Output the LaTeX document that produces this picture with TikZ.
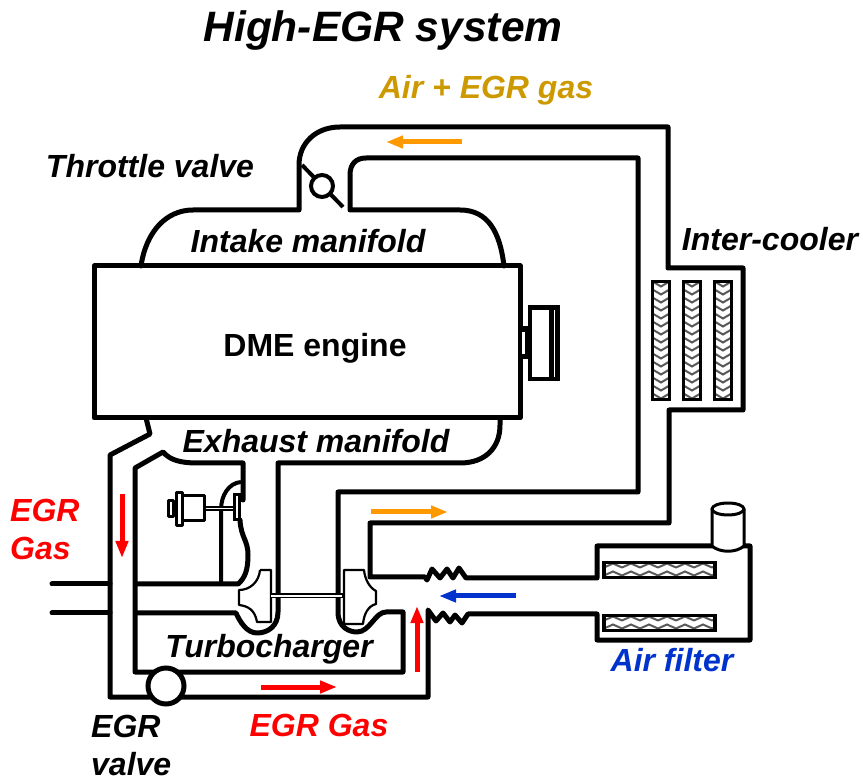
\documentclass[tikz,border=0pt]{standalone}
\usepackage{xcolor}
\usepackage{fontspec}
\setmainfont{Liberation Sans}
\usetikzlibrary{arrows.meta}
\definecolor{egrC}{rgb}{1,0,0}
\definecolor{mixC}{rgb}{1,0.6,0}
\definecolor{airC}{rgb}{0,0.2,0.8}
\definecolor{goldC}{rgb}{0.8,0.6,0}
\tikzset{
  pipe/.style={line width=5pt,line join=round,line cap=round},
  part/.style={line width=3pt,line join=round,fill=white},
  wheel/.style={line width=2.2pt,line join=round,fill=white},
  flow/.style={line width=5pt,-{Triangle[width=12pt,length=17pt]}},
  lbl/.style={font=\fontsize{32}{36}\selectfont\bfseries\itshape,inner sep=0pt,align=left}
}
\begin{document}
\begin{tikzpicture}[x=1pt,y=-1pt]
        \newcommand\fillCooler[1]{
          \begin{scope}[shift={(#1,281.5)}]
            \fill[white] (0,0) rectangle (17,118);
            \begin{scope}
              \clip (0,0) rectangle (17,118);
              \foreach \yy in {0,8,...,120}
                \draw[black!65,line width=2pt] (0,\yy) -- (8.5,\yy+5) -- (17,\yy);
            \end{scope}
            \draw[line width=3.5pt] (0,0) rectangle (17,118);
          \end{scope}}
        \newcommand\fillFilter[1]{
          \begin{scope}[shift={(604,#1)}]
            \fill[white] (0,0) rectangle (111,15);
            \begin{scope}
              \clip (0,0) rectangle (111,15);
              \foreach \xx in {0,18,...,108}{
                \draw[black!65,line width=2pt] (\xx,5) -- (\xx+9,1) -- (\xx+18,5);
                \draw[black!65,line width=2pt] (\xx,13) -- (\xx+9,9) -- (\xx+18,13);
              }
            \end{scope}
            \draw[line width=3.5pt] (0,0) rectangle (111,15);
          \end{scope}}
        \useasboundingbox (0,0) rectangle (863,783);
        % outer intake path, from manifold round the cooler and filter
        \draw[pipe] (141,266) .. controls (146,232) and (166,210) .. (193,210) -- (299,210) -- (299,165)
          .. controls (299,143) and (316,127) .. (340,127) -- (668,127) -- (668,268) -- (743,268)
          -- (743,410) -- (669,410) -- (669,523) -- (370,523) -- (370,577) -- (425,577) -- (427,580)
          -- (432,569) -- (440,578) -- (447,569) -- (453,578) -- (459,568) -- (466,578)
          -- (597,578) -- (597,546) -- (750,546) -- (750,640) -- (597,640) -- (597,614) -- (468,614)
          -- (462,623) -- (455,615) -- (450,622) -- (443,613) -- (436,621) -- (428,610)
          -- (428,697) -- (110,697) -- (110,455) -- (150,434) -- (146,418);
        % inner intake path
        \draw[pipe] (504,266) .. controls (500,232) and (488,210) .. (460,210) -- (350,210) -- (350,175)
          .. controls (350,164) and (356,158) .. (366,158) -- (638,158) -- (638,492) -- (338,492) -- (338,612)
          .. controls (338,628) and (350,632) .. (357,632) .. controls (370,632) and (375,612) .. (386,612)
          -- (403,612) -- (403,672) -- (135,672) -- (135,468) -- (163,452)
          .. controls (170,460) and (180,463) .. (198,463) -- (243,463) -- (243,500);
        % exhaust
        \draw[pipe] (500,418) -- (500,425) .. controls (500,448) and (485,463) .. (460,463) -- (278,463)
          -- (278,612) .. controls (278,626) and (268,633) .. (257,633) .. controls (247,633) and (240,622) .. (236,613)
          -- (137,613);
        \draw[pipe] (240,520) .. controls (241,538) and (248,540) .. (248,555) .. controls (248,570) and (245,578) .. (238,584) -- (137,584);
        \draw[pipe] (52,584) -- (110,584);
        \draw[pipe] (52,613) -- (110,613);
        % wastegate
        \draw[line width=4pt] (221,584) -- (221,510) .. controls (221,495) and (229,483) .. (241,482);
        \node[draw,part,minimum width=5pt,minimum height=16pt,inner sep=0pt] (capA) at (170.5,509) {};
        \node[draw,part,minimum width=6pt,minimum height=33pt,inner sep=0pt] (capB) at (179,509.5) {};
        \node[draw,part,minimum width=22pt,minimum height=25pt,inner sep=0pt] (capC) at (193,508.5) {};
        \draw[line width=5pt] (capC.east) -- (234,508.5);
        \draw[white,line width=1.5pt] (capC.east) -- (234,508.5);
        \draw[line width=3pt,fill=white] (234,495) rectangle (239,520);
        % engine
        \draw[pipe] (94,266) rectangle (520,418);
        \fill (518,326) rectangle (528,359);
        \fill[white] (522,332) rectangle (525,354);
        \fill (528,305) rectangle (560,381);
        \fill[white] (532,310) rectangle (549,377);
        \draw[white,line width=0.8pt] (554.5,310) -- (554.5,377);
        % turbo wheels
        \draw[wheel] (260,570) -- (271,570) -- (271,622) -- (257,622) .. controls (255,610) and (248,606) .. (239,605)
          -- (239,590) .. controls (250,590) and (259,582) .. (260,570);
        \draw[wheel] (344,570) -- (364,570) .. controls (365,580) and (370,588) .. (376,591) -- (376,604)
          .. controls (368,606) and (364,614) .. (363,624) -- (344,624) -- cycle;
        \draw[line width=5pt] (270,596) -- (343,596);
        \draw[white,line width=1.5pt] (271,596) -- (342,596);
        % egr valve and throttle
        \draw[line width=5pt,fill=white] (166,686) circle (18);
        \draw[line width=4pt] (302,165) -- (343,207);
        \draw[line width=4pt,fill=white] (322,186) circle (11);
        % coolers and filter
        \fillCooler{652.5};
        \fillCooler{683.5};
        \fillCooler{714.5};
        \fillFilter{562.5};
        \fillFilter{615.5};
        \draw[part] (712,509) -- (712,546) .. controls (720,553) and (736,553) .. (744,546) -- (744,509);
        \draw[part] (728,509) ellipse (16 and 6);
        % flows
        \draw[flow,egrC] (122,494) -- (122,558);
        \draw[flow,egrC] (261,687) -- (337,687);
        \draw[flow,egrC] (417,672) -- (417,606);
        \draw[flow,mixC] (462,142) -- (386,142);
        \draw[flow,mixC] (371,512) -- (448,512);
        \draw[flow,airC] (516,596) -- (439,596);
        % labels
        \node[lbl,font=\fontsize{42.5}{48}\selectfont\bfseries\itshape] (title) at (383,31) {High-EGR system};
        \node[lbl,goldC] (mixL) at (486,90) {Air + EGR gas};
        \node[lbl] (throttleL) at (150,166) {Throttle valve};
        \node[lbl] (intakeL) at (308,241) {Intake manifold};
        \node[lbl,font=\fontsize{32}{36}\selectfont\bfseries] (engineL) at (315,348) {DME engine};
        \node[lbl] (coolerL) at (770,239) {Inter-cooler};
        \node[lbl] (exhaustL) at (316,441) {Exhaust manifold};
        \node[lbl,egrC,anchor=west,font=\fontsize{32}{38}\selectfont\bfseries\itshape] (gasL) at (10,529) {EGR\\Gas};
        \node[lbl] (turboL) at (269,649) {Turbocharger};
        \node[lbl,airC] (filterL) at (672,660) {Air filter};
        \node[lbl,egrC] (gasB) at (319,725) {EGR Gas};
        \node[lbl,anchor=west,font=\fontsize{32}{32}\selectfont\bfseries\itshape] (valveL) at (91,745) {EGR\\[6pt]valve};
\end{tikzpicture}
\end{document}
